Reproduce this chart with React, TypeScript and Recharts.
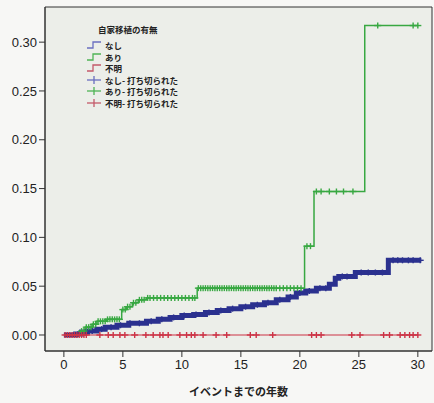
import React from "react";
import { ComposedChart, Line, XAxis, YAxis, ReferenceArea } from "recharts";

// 累積発生率 (Kaplan-Meier 1-S) — step points [year, value]
const noneSteps: [number, number][] = [
  [0, 0], [1.0, 0.001], [1.5, 0.003], [2.0, 0.004], [2.8, 0.006], [3.5, 0.008],
  [4.5, 0.01], [5.5, 0.012], [7.0, 0.014], [8.0, 0.016], [9.0, 0.018],
  [10.0, 0.02], [11.0, 0.021], [12.0, 0.023], [13.0, 0.025], [14.0, 0.027],
  [15.0, 0.029], [16.0, 0.031], [17.0, 0.033], [18.0, 0.036], [19.0, 0.039],
  [19.7, 0.043], [20.5, 0.045], [21.4, 0.048], [22.5, 0.052], [23.0, 0.058],
  [23.3, 0.06], [24.7, 0.064], [27.5, 0.0765], [30.3, 0.0765],
];
const yesSteps: [number, number][] = [
  [0, 0], [1.4, 0.004], [1.8, 0.008], [2.4, 0.011], [2.8, 0.014], [3.6, 0.016],
  [4.9, 0.026], [5.3, 0.029], [5.8, 0.033], [6.3, 0.036], [7.0, 0.038],
  [11.3, 0.048], [20.4, 0.091], [21.2, 0.147], [25.5, 0.317], [30.0, 0.317],
];
const unknownSteps: [number, number][] = [[0, 0], [30.0, 0]];

// 打ち切り times
const noneCensor = [
  1.2, 1.8, 2.4, 3.2, 4.0, 4.8, 5.6, 6.4, 7.4, 8.3, 9.3, 10.2, 11.2, 12.3,
  13.3, 14.3, 15.4, 16.4, 17.3, 18.3, 19.2, 20.0, 20.8, 21.7, 22.2, 23.6,
  24.0, 25.2, 25.8, 26.4, 27.0, 27.9, 28.3, 28.7, 29.2, 29.6, 30.2,
];
const yesCensor = [
  1.5, 1.7, 1.9, 2.1, 2.3, 2.5, 2.7, 2.9, 3.1, 3.3, 3.5, 3.7, 3.9, 4.1, 4.3,
  4.5, 4.7, 5.0, 5.2, 5.4, 5.6, 5.9, 6.1, 6.4, 6.6, 6.8, 7.1, 7.3, 7.6, 7.9,
  8.2, 8.5, 8.8, 9.1, 9.4, 9.7, 10.0, 10.3, 10.6, 10.9, 11.1, 11.4, 11.6,
  11.8, 12.0, 12.2, 12.4, 12.6, 12.8, 13.0, 13.2, 13.4, 13.6, 13.8, 14.0,
  14.2, 14.4, 14.6, 14.8, 15.0, 15.2, 15.4, 15.6, 15.8, 16.0, 16.2, 16.4,
  16.6, 16.8, 17.0, 17.2, 17.4, 17.6, 17.8, 18.0, 18.3, 18.6, 18.9, 19.2,
  19.5, 19.8, 20.1, 20.6, 20.9, 21.4, 21.8, 22.5, 23.1, 23.7, 24.5, 26.6,
  29.6, 30.0,
];
const unknownCensor = [
  0.1, 0.3, 0.5, 0.7, 0.9, 1.1, 1.3, 1.5, 1.7, 1.9, 3.05, 3.76, 4.18, 4.75,
  5.17, 6.0, 6.95, 7.57, 8.14, 8.4, 8.84, 9.83, 10.4, 10.8, 11.1, 11.8, 12.9,
  13.8, 15.8, 16.3, 17.7, 21.0, 21.4, 21.8, 24.4, 25.1, 27.1, 27.6, 28.5,
  28.9, 29.3, 29.6, 30.0,
];

const xTicks = [0, 5, 10, 15, 20, 25, 30];
const yTicks = [0, 0.05, 0.1, 0.15, 0.2, 0.25, 0.3];

const X_DOMAIN: [number, number] = [-1.6, 31.2];
const Y_DOMAIN: [number, number] = [-0.0164, 0.336];

const BLUE = "#2b318f";
const GREEN = "#38a842";
const RED = "#cc3346";

const toPoints = (steps: [number, number][]) => steps.map(([x, y]) => ({ x, y }));

// value of the step curve at time t
function stepAt(steps: [number, number][], t: number) {
  let v = steps[0][1];
  for (const [x, y] of steps) if (x <= t) v = y;
  return v;
}
const censorPoints = (steps: [number, number][], times: number[]) =>
  times.map((x) => ({ x, y: stepAt(steps, x) }));

const plus = (color: string) => (props: any) => {
  const { cx, cy, index } = props;
  if (cx == null || cy == null) return <g key={index} />;
  return (
    <g key={index} stroke={color} strokeWidth={1.4}>
      <line x1={cx - 3.5} x2={cx + 3.5} y1={cy} y2={cy} />
      <line x1={cx} x2={cx} y1={cy - 3} y2={cy + 3} />
    </g>
  );
};

const FONT = "'Liberation Sans', Arial, sans-serif";
const JP = "'Noto Sans CJK JP', sans-serif";

function StepIcon({ color }: { color: string }) {
  return (
    <svg width={16} height={8}>
      <polyline points="1,7 7,7 7,1 15,1" fill="none" stroke={color} strokeWidth={1.3} />
    </svg>
  );
}
function PlusIcon({ color }: { color: string }) {
  return (
    <svg width={16} height={8}>
      <line x1={1} x2={15} y1={4} y2={4} stroke={color} strokeWidth={1.3} />
      <line x1={8} x2={8} y1={0} y2={8} stroke={color} strokeWidth={1.3} />
    </svg>
  );
}

const legendItems = [
  { label: "なし", color: "#6a6fc0", icon: "step" },
  { label: "あり", color: "#4fb455", icon: "step" },
  { label: "不明", color: "#c45a6a", icon: "step" },
  { label: "なし- 打ち切られた", color: "#6a6fc0", icon: "plus" },
  { label: "あり- 打ち切られた", color: "#4fb455", icon: "plus" },
  { label: "不明- 打ち切られた", color: "#c45a6a", icon: "plus" },
];

export default function App() {
  return (
    <div
      style={{
        position: "absolute",
        left: 0,
        top: 0,
        width: 434,
        height: 403,
        background: "#f7f7f5",
        fontFamily: FONT,
      }}
    >
      <ComposedChart
        width={434}
        height={403}
        margin={{ top: 7, right: 2, left: 0, bottom: 0 }}
      >
        <XAxis
          type="number"
          dataKey="x"
          domain={X_DOMAIN}
          ticks={xTicks}
          allowDataOverflow
          height={52}
          tickSize={6}
          tickMargin={3}
          tick={{ fontSize: 13, fill: "#222", fontFamily: FONT }}
          tickLine={{ stroke: "#333" }}
          axisLine={{ stroke: "#333" }}
          label={{
            value: "イベントまでの年数",
            position: "insideBottom",
            offset: 7,
            style: { fontSize: 11, fill: "#222", fontFamily: JP, fontWeight: 700 },
          }}
        />
        <YAxis
          type="number"
          dataKey="y"
          domain={Y_DOMAIN}
          ticks={yTicks}
          allowDataOverflow
          width={45}
          tickSize={6}
          tickMargin={2}
          tickFormatter={(v: number) => v.toFixed(2)}
          tick={{ fontSize: 13, fill: "#222", fontFamily: FONT }}
          tickLine={{ stroke: "#333" }}
          axisLine={{ stroke: "#333" }}
        />
        <ReferenceArea
          x1={X_DOMAIN[0]}
          x2={X_DOMAIN[1]}
          y1={Y_DOMAIN[0]}
          y2={Y_DOMAIN[1]}
          fill="#eceee9"
          fillOpacity={1}
          stroke="#333"
          strokeWidth={1}
        />
        <Line
          data={toPoints(unknownSteps)}
          dataKey="y"
          type="stepAfter"
          stroke={RED}
          strokeWidth={1.2}
          dot={false}
          isAnimationActive={false}
        />
        <Line
          data={toPoints(noneSteps)}
          dataKey="y"
          type="stepAfter"
          stroke={BLUE}
          strokeWidth={5}
          dot={false}
          isAnimationActive={false}
        />
        <Line
          data={toPoints(yesSteps)}
          dataKey="y"
          type="stepAfter"
          stroke={GREEN}
          strokeWidth={1.5}
          dot={false}
          isAnimationActive={false}
        />
        <Line
          data={censorPoints(noneSteps, noneCensor)}
          dataKey="y"
          stroke="none"
          dot={plus(BLUE)}
          activeDot={false}
          isAnimationActive={false}
        />
        <Line
          data={censorPoints(yesSteps, yesCensor)}
          dataKey="y"
          stroke="none"
          dot={plus(GREEN)}
          activeDot={false}
          isAnimationActive={false}
        />
        <Line
          data={censorPoints(unknownSteps, unknownCensor)}
          dataKey="y"
          stroke="none"
          dot={plus(RED)}
          activeDot={false}
          isAnimationActive={false}
        />
      </ComposedChart>
      <div
        style={{
          position: "absolute",
          left: 86,
          top: 23,
          fontFamily: JP,
          fontSize: 8.5,
          color: "#222",
          lineHeight: "12.5px",
        }}
      >
        <div style={{ fontWeight: 700, marginLeft: 12, marginBottom: 4 }}>自家移植の有無</div>
        {legendItems.map((it) => (
          <div key={it.label} style={{ display: "flex", alignItems: "center", height: 11.5 }}>
            {it.icon === "step" ? <StepIcon color={it.color} /> : <PlusIcon color={it.color} />}
            <span style={{ marginLeft: 3, fontWeight: 700 }}>{it.label}</span>
          </div>
        ))}
      </div>
    </div>
  );
}
